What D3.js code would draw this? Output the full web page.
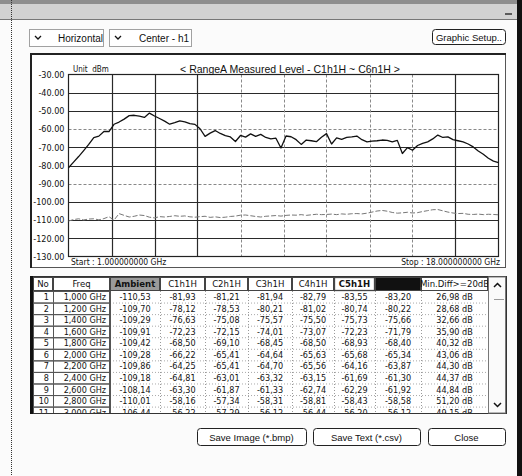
<!DOCTYPE html>
<html>
<head>
<meta charset="utf-8">
<script src="https://cdn.jsdelivr.net/npm/d3@7/dist/d3.min.js"></script>
<style>
  html, body { margin: 0; padding: 0; background: #ffffff; }
  svg { display: block; }
  text { font-family: "DejaVu Sans Condensed", "Liberation Sans Narrow", "Liberation Sans", sans-serif; fill: #111; white-space: pre; }
  .ui { font-family: "Liberation Sans", "DejaVu Sans", sans-serif; }
</style>
</head>
<body>
<svg id="win" width="522" height="476"></svg>
<script>
// ---- Sweep grid (GHz) ----
const freqGHz = [
  1.0, 1.2, 1.4, 1.6, 1.8, 2.0, 2.2, 2.4, 2.6, 2.8, 3.0, 3.2, 3.4, 3.6, 3.8, 4.0, 4.2, 4.4, 4.6, 4.8,
  5.0, 5.2, 5.4, 5.6, 5.8, 6.0, 6.2, 6.4, 6.6, 6.8, 7.0, 7.2, 7.4, 7.6, 7.8, 8.0, 8.2, 8.4, 8.6, 8.8,
  9.0, 9.2, 9.4, 9.6, 9.8, 10.0, 10.2, 10.4, 10.6, 10.8, 11.0, 11.2, 11.4, 11.6, 11.8, 12.0, 12.2, 12.4, 12.6, 12.8,
  13.0, 13.2, 13.4, 13.6, 13.8, 14.0, 14.2, 14.4, 14.6, 14.8, 15.0, 15.2, 15.4, 15.6, 15.8, 16.0, 16.2, 16.4, 16.6, 16.8,
  17.0, 17.2, 17.4, 17.6, 17.8, 18.0
];

// ---- Table rows (first 11 sweep points), dBm ----
const ambientTable = [-110.53, -109.70, -109.29, -109.91, -109.42, -109.28, -109.86, -109.18, -108.14, -110.01, -106.44];
const c1h1H = [-81.93, -78.12, -76.63, -72.23, -68.50, -66.22, -64.25, -64.81, -63.30, -58.16, -56.22];
const c2h1H = [-81.21, -78.53, -75.08, -72.15, -69.10, -65.41, -65.41, -63.01, -61.87, -57.34, -57.29];
const c3h1H = [-81.94, -80.21, -75.57, -74.01, -68.45, -64.64, -64.70, -63.32, -61.33, -58.31, -56.12];
const c4h1H = [-82.79, -81.02, -75.50, -73.07, -68.50, -65.63, -65.56, -63.15, -62.74, -58.81, -56.44];
const c5h1H = [-83.55, -80.74, -75.73, -72.23, -68.93, -65.68, -64.16, -61.69, -62.29, -58.43, -56.20];
const c6h1H = [-83.20, -80.22, -75.66, -71.79, -68.40, -65.34, -63.87, -61.30, -61.92, -58.58, -56.12];
const minDiffDb = [26.98, 28.68, 32.66, 35.90, 40.32, 43.06, 44.30, 44.37, 44.84, 51.20, 49.15];

// ---- Remaining sweep (3.2 .. 18.0 GHz), dBm ----
const peakLevelTail = [
  -54.5, -52.6, -52.4, -52.9, -53.6, -51.2, -52.8, -54.2, -55.6, -57.3,
  -56.5, -55.5, -56.0, -57.0, -57.4, -59.8, -64.0, -62.2, -60.8, -62.4,
  -63.6, -64.3, -66.8, -63.5, -64.4, -62.6, -64.0, -62.9, -64.6, -65.4,
  -65.0, -70.4, -63.8, -64.2, -65.8, -68.4, -66.0, -66.4, -66.9, -64.5,
  -62.5, -68.2, -64.8, -65.6, -64.6, -64.3, -63.8, -65.8, -67.0, -66.6,
  -66.4, -66.0, -66.2, -67.0, -66.2, -73.4, -70.2, -71.6, -69.0, -67.8,
  -67.0, -65.4, -63.3, -64.6, -64.3, -65.8, -66.4, -67.0, -68.2, -69.8,
  -72.0, -73.8, -76.0, -77.6, -78.4
];
const ambientTail = [
  -107.4, -108.3, -107.9, -107.2, -107.5, -108.4, -108.8, -108.1, -108.3, -108.0,
  -107.6, -107.9, -107.7, -108.2, -108.4, -108.1, -107.9, -108.5, -108.2, -108.6,
  -108.4, -108.0, -107.8, -107.3, -107.2, -107.6, -108.0, -108.3, -107.9, -107.7,
  -107.5, -107.8, -107.4, -107.2, -107.3, -107.0, -107.4, -107.1, -106.8, -107.0,
  -106.9, -106.7, -107.0, -106.6, -106.8, -106.5, -106.4, -106.6, -106.2, -105.6,
  -105.0, -104.7, -105.1, -105.8, -106.2, -106.0, -105.7, -106.1, -105.9, -105.3,
  -104.8, -104.3, -104.2, -104.9, -105.6, -106.1, -106.4, -106.3, -106.8, -106.9,
  -106.7, -107.0, -106.8, -106.9, -107.1
];

// ---- Axis / labels ----
const levelTicks = [-30, -40, -50, -60, -70, -80, -90, -100, -110, -120, -130];
const columnHeaders = ["No", "Freq", "Ambient", "C1h1H", "C2h1H", "C3h1H", "C4h1H", "C5h1H", "C6h1H", "Min.Diff>=20dB"];
const channels = [c1h1H, c2h1H, c3h1H, c4h1H, c5h1H, c6h1H];

const nTable = ambientTable.length;
const peakLevel = freqGHz.map((f, i) => i < nTable ? d3.max(channels, c => c[i]) : peakLevelTail[i - nTable]);
const ambientLevel = freqGHz.map((f, i) => i < nTable ? ambientTable[i] : ambientTail[i - nTable]);

const svg = d3.select("#win");
const comma = v => v.toFixed(2).replace(".", ",");

// ---------- window frame ----------
svg.append("rect").attr("x", 0).attr("y", 0).attr("width", 522).attr("height", 476).attr("fill", "#fbfbfb");
svg.append("rect").attr("x", 0).attr("y", 0).attr("width", 522).attr("height", 19).attr("fill", "#d2d2d2");
svg.append("rect").attr("x", 0).attr("y", 0).attr("width", 522).attr("height", 4).attr("fill", "#8e8e8e");
svg.append("line").attr("x1", 0).attr("x2", 522).attr("y1", 19.5).attr("y2", 19.5).attr("stroke", "#777");
svg.append("line").attr("x1", 11.5).attr("x2", 11.5).attr("y1", 0).attr("y2", 476)
  .attr("stroke", "#333").attr("stroke-dasharray", "1,1");
svg.append("rect").attr("x", 517).attr("y", 0).attr("width", 5).attr("height", 476).attr("fill", "#111");
svg.append("path").attr("d", "M505,14H512").attr("stroke", "#333").attr("stroke-width", 1.5);

// ---------- top controls ----------
function dropdown(x, w, label, tx) {
  const g = svg.append("g");
  g.append("rect").attr("x", x + 0.5).attr("y", 29.5).attr("width", w).attr("height", 17)
    .attr("fill", "#fff").attr("stroke", "#444").attr("stroke-dasharray", "1,1");
  g.append("path").attr("d", `M${x + 6},${36} l3,3 l3,-3`).attr("fill", "none").attr("stroke", "#111").attr("stroke-width", 1.3);
  g.append("text").attr("class", "ui").attr("x", tx).attr("y", 41.5).attr("font-size", 10).text(label);
}
dropdown(29, 74, "Horizontal", 58);
dropdown(109, 82, "Center - h1", 139);

svg.append("rect").attr("x", 432.5).attr("y", 29.5).attr("width", 73).attr("height", 15).attr("rx", 3)
  .attr("fill", "#fff").attr("stroke", "#222");
svg.append("text").attr("class", "ui").attr("x", 469).attr("y", 40.5).attr("text-anchor", "middle")
  .attr("font-size", 9.5).text("Graphic Setup..");

// ---------- chart panel ----------
svg.append("rect").attr("x", 30.5).attr("y", 53.5).attr("width", 475).attr("height", 214)
  .attr("fill", "#fff").attr("stroke", "#555");
svg.append("line").attr("x1", 30).attr("x2", 506).attr("y1", 54).attr("y2", 54).attr("stroke", "#222").attr("stroke-width", 2);
svg.append("line").attr("x1", 31).attr("x2", 31).attr("y1", 53).attr("y2", 268).attr("stroke", "#222").attr("stroke-width", 2);

const x = d3.scaleLinear().domain([1, 18]).range([68.5, 498.5]);
const y = d3.scaleLinear().domain([-130, -30]).range([256.5, 74.5]);

const grid = svg.append("g");
// horizontal reference levels
const dashedLevels = [-60, -90];
levelTicks.slice(1, -1).forEach(v => {
  const dashed = dashedLevels.includes(v);
  grid.append("line").attr("x1", x(1)).attr("x2", x(18)).attr("y1", Math.round(y(v)) + 0.5).attr("y2", Math.round(y(v)) + 0.5)
    .attr("stroke", dashed ? "#888" : "#2a2a2a").attr("stroke-width", dashed ? 1 : 1.2)
    .attr("stroke-dasharray", dashed ? "3,2" : null);
});
// vertical divisions (10 per span)
d3.range(1, 10).forEach(k => {
  const f = 1 + k * 1.7;
  const solid = [1, 2, 3, 9].includes(k);
  grid.append("line").attr("x1", Math.round(x(f)) + 0.5).attr("x2", Math.round(x(f)) + 0.5).attr("y1", y(-30)).attr("y2", y(-130))
    .attr("stroke", solid ? "#2a2a2a" : "#8a8a8a").attr("stroke-width", solid ? 1.2 : 1)
    .attr("stroke-dasharray", solid ? null : "3,2");
});
// plot frame
svg.append("rect").attr("x", x(1)).attr("y", y(-30)).attr("width", x(18) - x(1)).attr("height", y(-130) - y(-30))
  .attr("fill", "none").attr("stroke", "#222").attr("stroke-width", 1.2);

// y axis labels
const yAxis = d3.axisLeft(y).tickValues(levelTicks).tickSize(0).tickPadding(4).tickFormat(d => d.toFixed(2));
const yg = svg.append("g").attr("transform", `translate(${x(1)},0)`).call(yAxis);
yg.select(".domain").remove();
yg.selectAll("text").attr("font-size", 9).attr("fill", "#111")
  .style("font-family", '"DejaVu Sans Condensed", "Liberation Sans Narrow", sans-serif');

// traces
const line = d3.line().x((d, i) => x(freqGHz[i])).y(d => y(d));
svg.append("path").datum(ambientLevel).attr("d", line).attr("fill", "none")
  .attr("stroke", "#777").attr("stroke-width", 1).attr("stroke-dasharray", "5,2");
svg.append("path").datum(peakLevel).attr("d", line).attr("fill", "none")
  .attr("stroke", "#111").attr("stroke-width", 1.3).attr("stroke-linejoin", "round");

// chart texts
svg.append("text").attr("x", 73).attr("y", 72).attr("font-size", 8).text("Unit  dBm");
svg.append("text").attr("class", "ui").attr("x", 290).attr("y", 72.5).attr("text-anchor", "middle")
  .attr("font-size", 10.5).text("< RangeA Measured Level - C1h1H ~ C6n1H >");
svg.append("text").attr("x", 71).attr("y", 265).attr("font-size", 8.5).text("Start : " + freqGHz[0].toFixed(9) + " GHz");
svg.append("text").attr("x", 500).attr("y", 265).attr("text-anchor", "end").attr("font-size", 8.5)
  .text("Stop : " + freqGHz[freqGHz.length - 1].toFixed(9) + " GHz");

// ---------- data table ----------
const tTop = 276, tBottom = 413, hdrH = 14, rowH = 11.56;
const colEdges = [33, 53, 110, 160, 205, 248, 292, 334, 375, 421, 488];
const scrollL = 488, tRight = 506;

svg.append("rect").attr("x", 30.5).attr("y", tTop + 0.5).attr("width", tRight - 30).attr("height", tBottom - tTop)
  .attr("fill", "#fff").attr("stroke", "#333");
svg.append("rect").attr("x", 30).attr("y", tTop).attr("width", 3).attr("height", tBottom - tTop + 1).attr("fill", "#111");

svg.append("clipPath").attr("id", "tclip").append("rect")
  .attr("x", 33).attr("y", tTop).attr("width", scrollL - 33).attr("height", tBottom - tTop);
const tg = svg.append("g").attr("clip-path", "url(#tclip)");

// header cells
columnHeaders.forEach((h, j) => {
  const x0 = colEdges[j], x1 = colEdges[j + 1];
  const isAmb = h === "Ambient", isDark = h === "C6h1H", isBold = h === "C5h1H";
  tg.append("rect").attr("x", x0 + 0.5).attr("y", tTop + 1.5).attr("width", x1 - x0 - 1).attr("height", hdrH - 1)
    .attr("fill", isDark ? "#111" : (isAmb ? "#9a9a9a" : "#fff"))
    .attr("stroke", "#444").attr("stroke-width", isBold ? 1.3 : 1);
  tg.append("text").attr("x", (x0 + x1) / 2).attr("y", tTop + 11).attr("text-anchor", "middle")
    .attr("font-size", 9.5).attr("font-weight", isAmb || isBold ? "bold" : "normal")
    .attr("fill", isDark ? "#2a2a2a" : "#111").text(h);
});

// data rows
const rowsTop = tTop + hdrH + 1;
for (let i = 0; i < nTable; i++) {
  const r0 = rowsTop + i * rowH, cy = r0 + rowH / 2 + 3.3;
  // row-header cells (No, Freq)
  tg.append("rect").attr("x", colEdges[0] + 0.5).attr("y", r0 + 0.5).attr("width", colEdges[2] - colEdges[0] - 1).attr("height", rowH)
    .attr("fill", "none").attr("stroke", "#555");
  tg.append("line").attr("x1", colEdges[1] + 0.5).attr("x2", colEdges[1] + 0.5).attr("y1", r0).attr("y2", r0 + rowH).attr("stroke", "#555");
  tg.append("line").attr("x1", colEdges[2]).attr("x2", colEdges[colEdges.length - 1]).attr("y1", r0 + rowH + 0.5).attr("y2", r0 + rowH + 0.5)
    .attr("stroke", "#aaa").attr("stroke-dasharray", "1,2");
  tg.append("text").attr("x", colEdges[1] - 4).attr("y", cy).attr("text-anchor", "end").attr("font-size", 9).text(i + 1);
  tg.append("text").attr("x", colEdges[2] - 4).attr("y", cy).attr("text-anchor", "end").attr("font-size", 9)
    .text(freqGHz[i].toFixed(3).replace(".", ",") + " GHz");
  const vals = [ambientTable[i], ...channels.map(c => c[i])];
  vals.forEach((v, j) => {
    tg.append("text").attr("x", (colEdges[j + 2] + colEdges[j + 3]) / 2).attr("y", cy).attr("text-anchor", "middle")
      .attr("font-size", 9).text(comma(v));
  });
  tg.append("text").attr("x", (colEdges[9] + colEdges[10]) / 2).attr("y", cy).attr("text-anchor", "middle")
    .attr("font-size", 9).text(comma(minDiffDb[i]) + " dB");
}
// column separators in the value area
colEdges.slice(3, -1).forEach(cx => {
  tg.append("line").attr("x1", cx + 0.5).attr("x2", cx + 0.5).attr("y1", rowsTop).attr("y2", tBottom)
    .attr("stroke", "#999").attr("stroke-dasharray", "1,2");
});
tg.append("line").attr("x1", colEdges[2] + 0.5).attr("x2", colEdges[2] + 0.5).attr("y1", rowsTop).attr("y2", tBottom).attr("stroke", "#555");

// scrollbar
svg.append("rect").attr("x", scrollL + 0.5).attr("y", tTop + 1).attr("width", tRight - scrollL - 1).attr("height", tBottom - tTop - 1)
  .attr("fill", "#fafafa").attr("stroke", "#777");
svg.append("path").attr("d", `M${scrollL + 6},${tTop + 11} l3.5,-3.5 l3.5,3.5`).attr("fill", "none").attr("stroke", "#111").attr("stroke-width", 1.5);
svg.append("path").attr("d", `M${scrollL + 6},${tBottom - 10} l3.5,3.5 l3.5,-3.5`).attr("fill", "none").attr("stroke", "#111").attr("stroke-width", 1.5);
svg.append("line").attr("x1", scrollL + 6).attr("x2", tRight - 2).attr("y1", tTop + 23.5).attr("y2", tTop + 23.5).attr("stroke", "#999");

// ---------- bottom buttons ----------
[["Save Image (*.bmp)", 197, 109], ["Save Text (*.csv)", 313, 107], ["Close", 428, 77]].forEach(([label, bx, bw]) => {
  svg.append("rect").attr("x", bx + 0.5).attr("y", 428.5).attr("width", bw).attr("height", 17).attr("rx", 3)
    .attr("fill", "#fff").attr("stroke", "#222");
  svg.append("text").attr("class", "ui").attr("x", bx + bw / 2).attr("y", 440.5).attr("text-anchor", "middle")
    .attr("font-size", 9.5).text(label);
});
</script>
</body>
</html>
